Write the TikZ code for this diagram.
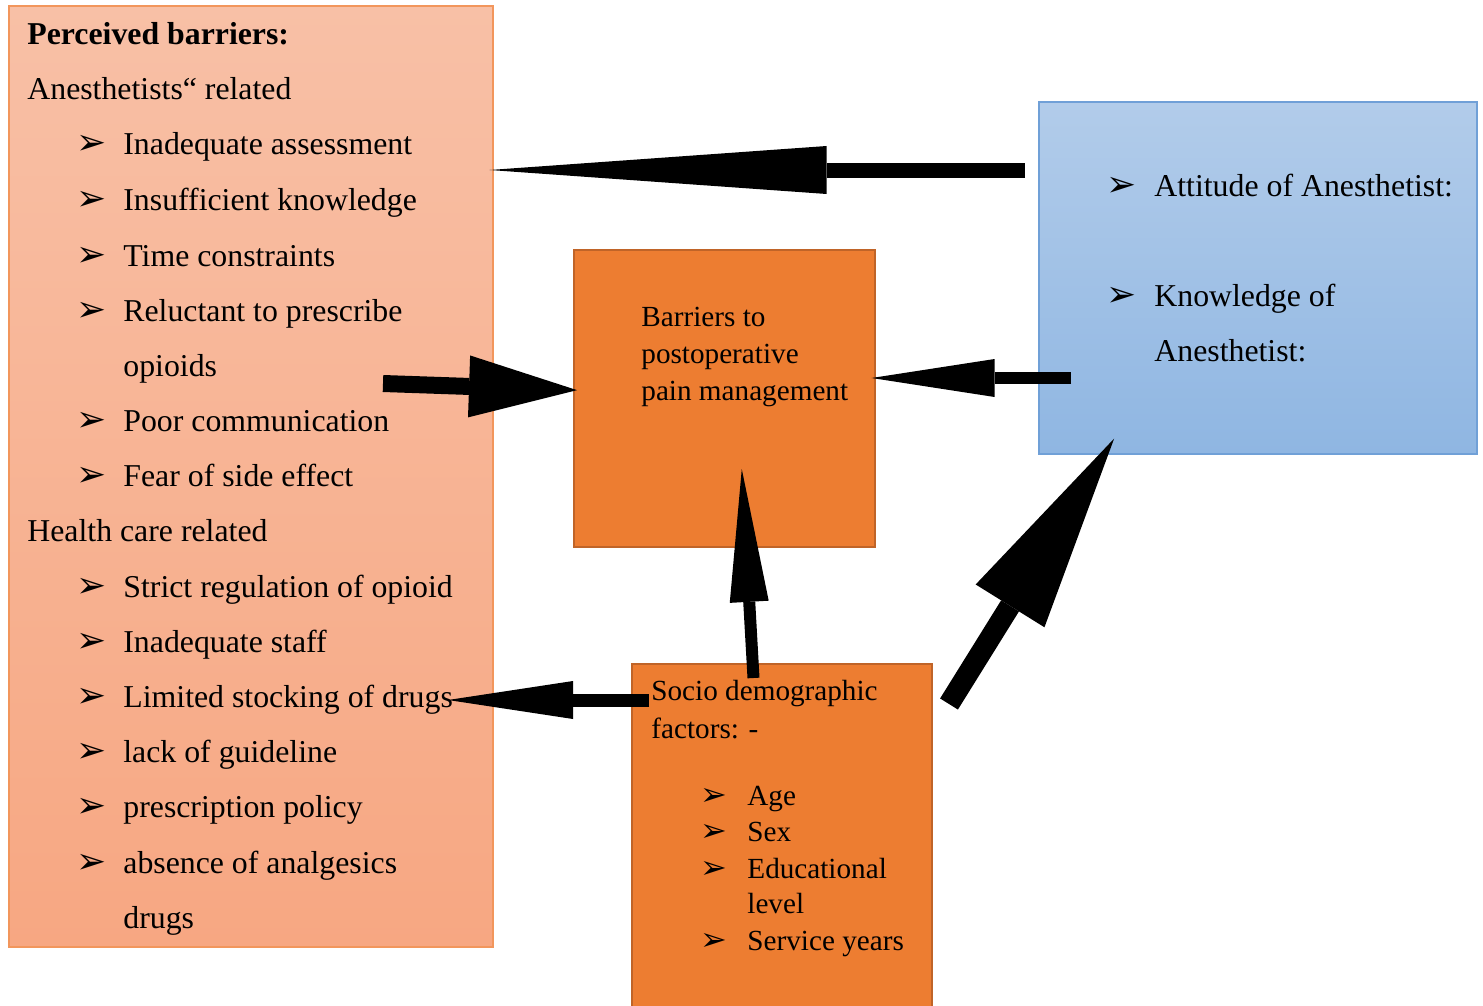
\documentclass[tikz,border=0pt]{standalone}
\usepackage{fontspec}
\setmainfont{Liberation Serif}
\newfontfamily\dingfont{DejaVu Sans}
\usetikzlibrary{arrows.meta,calc}
\definecolor{salmonT}{RGB}{248,192,166}
\definecolor{salmonB}{RGB}{247,167,130}
\definecolor{salmonE}{RGB}{242,150,92}
\definecolor{orangeF}{RGB}{237,125,49}
\definecolor{orangeE}{RGB}{192,100,40}
\definecolor{blueT}{RGB}{178,204,234}
\definecolor{blueB}{RGB}{143,182,226}
\definecolor{blueE}{RGB}{112,160,215}
\begin{document}
\begin{tikzpicture}[x=0.5pt,y=-0.5pt,
  txt/.style={anchor=base west,inner sep=0pt,font=\fontsize{15.9}{19}\selectfont},
  stxt/.style={anchor=base west,inner sep=0pt,font=\fontsize{14.6}{17}\selectfont},
  bul/.style={anchor=base west,inner sep=0pt,font=\dingfont\fontsize{18}{18}\selectfont},
  sbul/.style={anchor=base west,inner sep=0pt,font=\dingfont\fontsize{16}{16}\selectfont},
  boxbase/.style={anchor=north west,inner sep=0pt,line width=0.8pt},
  barrow/.style args={#1/#2/#3}{line width=#1,black,shorten >=-2pt,
      -{Triangle[length=#2,width=#3,line width=0pt]}}]
\clip (0,0) rectangle (1483,1006);
\fill[white] (0,0) rectangle (1483,1006);
% boxes
\node[boxbase,draw=salmonE,top color=salmonT,bottom color=salmonB,
  minimum width=242pt,minimum height=470.5pt] (lbox) at (8,5) {};
\node[boxbase,draw=orangeE,fill=orangeF,
  minimum width=150.5pt,minimum height=148.5pt] (cbox) at (573,249) {};
\node[boxbase,draw=blueE,top color=blueT,bottom color=blueB,
  minimum width=219pt,minimum height=176pt] (rbox) at (1038,101) {};
\node[boxbase,draw=orangeE,fill=orangeF,
  minimum width=150pt,minimum height=176pt] (sbox) at (631,663) {};
% left box text
\node[txt,font=\bfseries\fontsize{15.9}{19}\selectfont] (ltitle) at (27,45) {Perceived barriers:};
\node[txt] (lsub1) at (27,100) {Anesthetists“ related};
\node[txt] (lsub2) at (27,541) {Health care related};
\foreach \y/\t [count=\i] in {155/Inadequate assessment,210/Insufficient knowledge,
  266/Time constraints,321/Reluctant to prescribe,431/Poor communication,
  486/Fear of side effect,597/Strict regulation of opioid,652/Inadequate staff,
  707/Limited stocking of drugs,762/lack of guideline,817/prescription policy,
  873/absence of analgesics}{
  \node[bul] (lb\i) at (76,\y) {➢};
  \node[txt] (li\i) at (123,\y) {\t};
}
\node[txt] (lc1) at (123,376) {opioids};
\node[txt] (lc2) at (123,928) {drugs};
% center box text
\node[stxt] (c1) at (641,326) {Barriers to};
\node[stxt] (c2) at (641,363) {postoperative};
\node[stxt] (c3) at (641,400) {pain management};
% right box text
\node[bul] (rb1) at (1106,196) {➢};
\node[txt] (r1) at (1154,196) {Attitude of Anesthetist:};
\node[bul] (rb2) at (1106,306) {➢};
\node[txt] (r2) at (1154,306) {Knowledge of};
\node[txt] (r3) at (1154,361) {Anesthetist:};
% bottom box text
\node[stxt] (s1) at (651,700) {Socio demographic};
\node[stxt] (s2) at (651,738) {factors: -};
\foreach \y/\t [count=\i] in {805/Age,841/Sex,878/Educational,950/Service years}{
  \node[sbul] (sb\i) at (700,\y) {➢};
  \node[stxt] (si\i) at (747,\y) {\t};
}
\node[stxt] (sc) at (747,913) {level};
% arrow ends
\coordinate (a1s) at (1025,170);
\coordinate (a1e) at (lbox.east |- a1s);
\coordinate (a2s) at (383,383.5);
\coordinate (a2e) at (573,390);
\coordinate (a3s) at (1071,378);
\coordinate (a3e) at (cbox.east |- a3s);
\coordinate (a4s) at (753.5,678);
\coordinate (a4e) at (742,473);
\coordinate (a5s) at (649,700);
\coordinate (a5e) at (452,700);
\coordinate (a6s) at (949,704);
\coordinate (a6e) at (1112,442);
% arrows
\draw[barrow=7.5pt/168.5pt/24pt] (a1s) -- (a1e);
\draw[barrow=8.5pt/54pt/31pt] (a2s) -- (a2e);
\draw[barrow=6pt/61.5pt/19pt] (a3s) -- (a3e);
\draw[barrow=6pt/66.5pt/19.5pt] (a4s) -- (a4e);
\draw[barrow=6.5pt/62.5pt/19pt] (a5s) -- (a5e);
\draw[barrow=10.5pt/98.5pt/40.5pt] (a6s) -- (a6e);
\end{tikzpicture}
\end{document}
